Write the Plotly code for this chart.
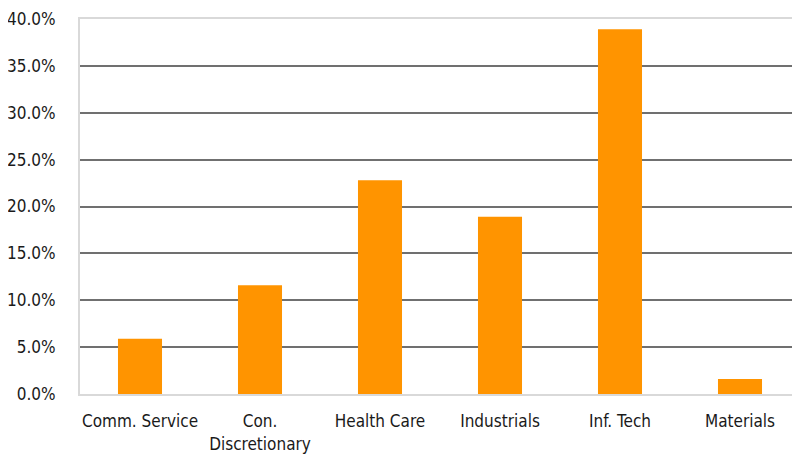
import plotly.graph_objects as go

sectors = ["Comm. Service", "Con.<br>Discretionary", "Health Care",
           "Industrials", "Inf. Tech", "Materials"]
weights = [0.059, 0.116, 0.228, 0.189, 0.389, 0.016]
tick_vals = [0, 0.05, 0.10, 0.15, 0.20, 0.25, 0.30, 0.35, 0.40]

FONT = "DejaVu Sans Condensed, Liberation Sans Narrow, sans-serif"

fig = go.Figure(go.Bar(
    x=sectors,
    y=weights,
    marker_color="#FF9400",
    marker_line_width=0,
))

# page body has an 8px margin, so the margins are shifted to compensate
fig.update_layout(
    width=800, height=455,
    margin=dict(l=72, r=8, t=11, b=69, autoexpand=False),
    paper_bgcolor="white",
    plot_bgcolor="white",
    bargap=0.633,
    showlegend=False,
    font=dict(family=FONT, size=17, color="#1a1a1a"),
)

fig.update_xaxes(
    showline=True, mirror=True, linecolor="#d9d9d9", linewidth=2,
    showgrid=False, ticks="", tickfont=dict(size=17), automargin=False,
    ticklabelstandoff=11,
)

fig.update_yaxes(
    range=[0, 0.4], tickvals=tick_vals, tickformat=".1%",
    showgrid=True, gridcolor="#707070", gridwidth=2,
    zeroline=False,
    showline=True, linecolor="#d9d9d9", linewidth=2,
    ticks="", ticklabelstandoff=19, tickfont=dict(size=17), automargin=False,
)

fig.write_html("out.html")
